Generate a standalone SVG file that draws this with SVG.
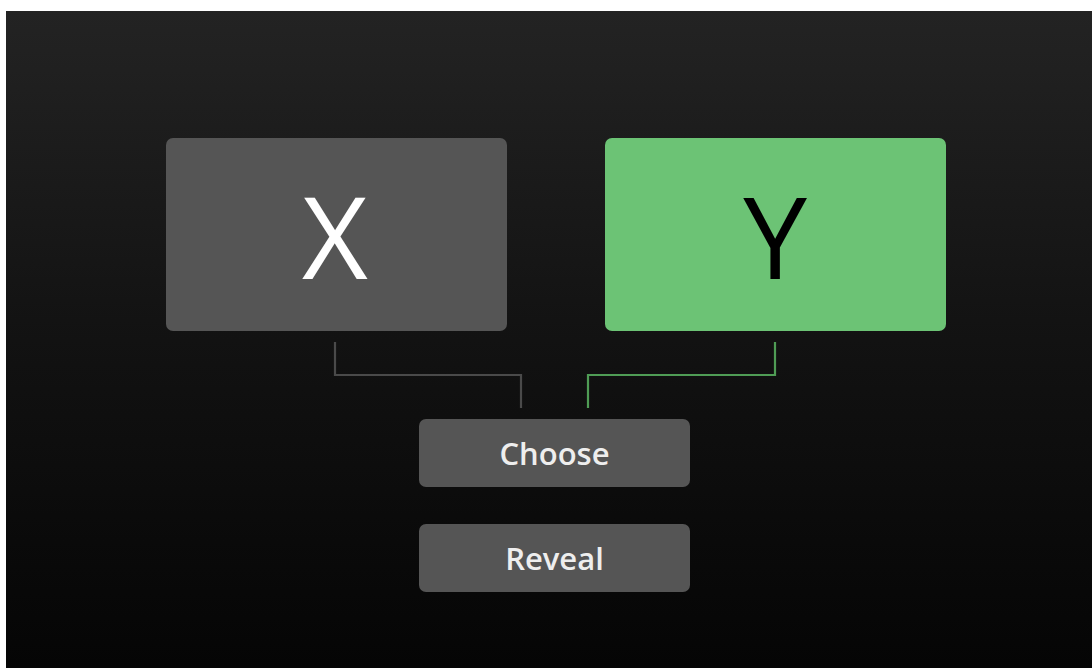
<svg xmlns="http://www.w3.org/2000/svg" width="1092" height="668" viewBox="0 0 1092 668">
<defs>
<linearGradient id="bg" x1="0" y1="0" x2="0" y2="1">
<stop offset="0" stop-color="#232323"/>
<stop offset="0.5" stop-color="#121212"/>
<stop offset="1" stop-color="#050505"/>
</linearGradient>
<style>
.box{fill:#555555}
.big{font-family:"Open Sans","Noto Sans",sans-serif;font-size:114px;text-anchor:middle}
.lbl{font-family:"Open Sans","Noto Sans",sans-serif;font-size:31px;font-weight:600;fill:#eeeeee;text-anchor:middle}
.wire{fill:none;stroke-width:2.2}
</style>
</defs>
<rect width="1092" height="668" fill="#ffffff"/>
<rect x="6" y="11" width="1086" height="657" fill="url(#bg)"/>
<g id="node-x">
<rect class="box" x="166" y="138" width="341" height="193" rx="7"/>
<text class="big" x="335" y="279" fill="#ffffff">X</text>
</g>
<g id="node-y">
<rect x="605" y="138" width="341" height="193" rx="7" fill="#6cc375"/>
<text class="big" x="775" y="279" fill="#000000">Y</text>
</g>
<g id="connectors">
<path class="wire" stroke="#4a4a4a" d="M335 342 V375 H521 V408"/>
<path class="wire" stroke="#4f9c55" d="M775 342 V375 H588 V408"/>
</g>
<g id="node-choose">
<rect class="box" x="419" y="419" width="271" height="68" rx="7"/>
<text class="lbl" x="554.5" y="465">Choose</text>
</g>
<g id="node-reveal">
<rect class="box" x="419" y="524" width="271" height="68" rx="7"/>
<text class="lbl" x="554.5" y="570">Reveal</text>
</g>
</svg>
